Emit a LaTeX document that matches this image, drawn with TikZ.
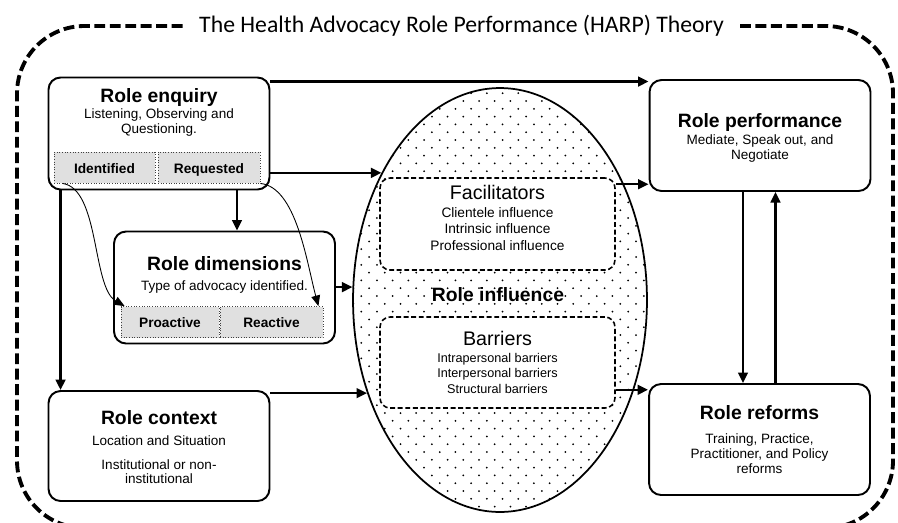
\documentclass[tikz,border=0pt]{standalone}
\usepackage{fontspec}
\setmainfont{Liberation Sans}
\newfontfamily\titlefont{Carlito}
\usetikzlibrary{arrows.meta,shapes.geometric}

\begin{document}
\begin{tikzpicture}[x=0.02cm, y=-0.02cm,
    box/.style={draw, line width=1.1pt, rounded corners=0.24cm, minimum width=4.42cm, minimum height=2.24cm},
    subbox/.style={draw=black!75, densely dotted, line width=0.5pt, fill=black!12, minimum height=0.62cm, text height=1.5ex, text depth=0.3ex, font=\fontsize{7.8}{9}\selectfont\bfseries},
    dbox/.style={draw, dash pattern=on 2.8pt off 1.5pt, line width=0.9pt, rounded corners=0.2cm, fill=white, minimum width=4.7cm},
    head/.style={font=\fontsize{11}{13}\selectfont\bfseries},
    txt/.style={font=\fontsize{7.7}{8.6}\selectfont, align=center},
    arr/.style={line width=1.4pt, -{Triangle[length=6pt, width=5.5pt]}},
    thinarr/.style={line width=0.5pt, -{Triangle[length=6pt, width=5pt]}}]

    \useasboundingbox (0,0) rectangle (898,522);

    % frame and title
    \node[font=\titlefont\fontsize{13.5}{16}\selectfont, anchor=base] (title) at (461.5,32) {The Health Advocacy Role Performance (HARP) Theory};
    \coordinate (fr) at (740,26);
    \coordinate (fl) at (183,26);
    \draw[line width=2.2pt, dash pattern=on 6.2pt off 2.6pt, rounded corners=1.35cm] (fr) -- (893,26) -- (893,528) -- (17,528) -- (17,26) -- (fl);

    % dotted ellipse
    \begin{scope}
        \clip (500,300) ellipse [x radius=147, y radius=212];
        \foreach \r in {0,...,56} {
            \pgfmathsetmacro\dy{85.4+7.8*\r}
            \pgfmathsetmacro\dx{337.7+7.85*mod(\r,2)}
            \foreach \c in {0,...,20}
                \fill (\dx+15.7*\c,\dy) circle [radius=1];
        }
    \end{scope}
    \node[draw, ellipse, line width=1pt, minimum width=5.88cm, minimum height=8.48cm, inner sep=0pt] (infl) at (500,300) {};
    \node[head] (inflh) at (498,295) {Role influence};

    \node[dbox, minimum height=1.84cm] (fac) at (497.5,224) {};
    \node[font=\fontsize{11.2}{13}\selectfont] (fach) at (497.5,192) {Facilitators};
    \node[txt, font=\fontsize{7.8}{9.6}\selectfont] (fact) at (497.5,229) {Clientele influence\\Intrinsic influence\\Professional influence};

    \node[dbox, minimum height=1.82cm] (bar) at (497.5,362.5) {};
    \node[font=\fontsize{11.2}{13}\selectfont] (barh) at (497.5,338) {Barriers};
    \node[txt, font=\fontsize{7.2}{8.8}\selectfont] (bart) at (497.5,373.3) {Intrapersonal barriers\\Interpersonal barriers\\Structural barriers};

    % boxes
    \node[box] (enq) at (159,133.5) {};
    \node[head] (enqh) at (159,97) {Role enquiry};
    \node[txt] (enqt) at (159,122.5) {Listening, Observing and\\Questioning.};
    \node[subbox, minimum width=2.02cm] (idn) at (104.5,167.5) {Identified};
    \node[subbox, minimum width=2.04cm] (req) at (209,167.5) {Requested};

    \node[box] (dim) at (224.5,287.5) {};
    \node[head] (dimh) at (224.5,264) {Role dimensions};
    \node[txt] (dimt) at (224.5,286.5) {Type of advocacy identified.};
    \node[subbox, minimum width=1.96cm] (pro) at (170,322) {Proactive};
    \node[subbox, minimum width=2.06cm] (rea) at (271.5,322) {Reactive};

    \node[box, minimum height=2.2cm] (ctx) at (159,446) {};
    \node[head] (ctxh) at (159,418) {Role context};
    \node[txt] (ctxt) at (159,441) {Location and Situation};
    \node[txt, font=\fontsize{7.7}{8}\selectfont] (ctxu) at (159,472) {Institutional or non-\\institutional};

    \node[box, minimum height=2.22cm] (perf) at (760,135.5) {};
    \node[head] (perfh) at (760,122) {Role performance};
    \node[txt] (perft) at (760,148.5) {Mediate, Speak out, and\\Negotiate};

    \node[box, minimum height=2.22cm] (ref) at (759.5,439.5) {};
    \node[head] (refh) at (759.5,413) {Role reforms};
    \node[txt] (reft) at (759.5,454) {Training, Practice,\\Practitioner, and Policy\\reforms};

    % arrows
    \coordinate (a1) at ([yshift=-0.1cm]enq.north east);
    \draw[arr] (a1) -- (a1 -| perf.west);
    \draw[arr] (enq.east |- infl.133) -- (infl.133);
    \coordinate (a3) at ([xshift=1.56cm]enq.south);
    \draw[arr] (a3) -- (a3 |- dim.north);
    \coordinate (a4) at ([xshift=0.26cm]enq.south west);
    \draw[arr] (a4) -- (a4 |- ctx.north);
    \draw[arr] (dim.east |- infl.175) -- (infl.175);
    \draw[arr] (ctx.east |- infl.215) -- (infl.215);
    \coordinate (a5) at ([yshift=-0.14cm]fac.north east);
    \draw[arr] (a5) -- (a5 -| perf.west);
    \coordinate (a6) at ([yshift=0.38cm]bar.south east);
    \draw[arr] (a6) -- (a6 -| ref.west);
    \coordinate (a7) at ([xshift=-0.34cm]perf.south);
    \draw[arr] (a7) -- (a7 |- ref.north);
    \coordinate (a8) at ([xshift=0.32cm]ref.north);
    \draw[arr] (a8) -- (a8 |- perf.south);

    \draw[thinarr] ([xshift=0.18cm]idn.south west) to[out=-8, in=150, looseness=0.7] ([xshift=0.08cm]pro.north west);
    \draw[thinarr] (req.south east) to[out=-6, in=105, out looseness=0.68, in looseness=0.86] ([xshift=-0.1cm]rea.north east);
\end{tikzpicture}
\end{document}
